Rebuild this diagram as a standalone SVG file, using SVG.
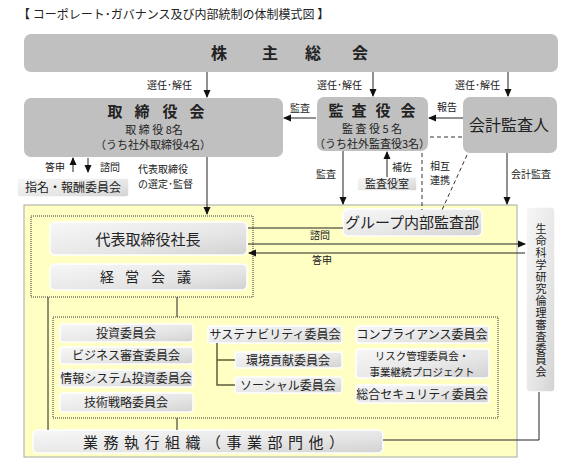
<svg xmlns="http://www.w3.org/2000/svg" width="574" height="464" viewBox="0 0 574 464">
<defs>
<linearGradient id="g" x1="0" y1="0" x2="1" y2="1">
<stop offset="0" stop-color="#f7f7f7"/>
<stop offset="0.6" stop-color="#e6e6e6"/>
<stop offset="1" stop-color="#d2d2d2"/>
</linearGradient>
<marker id="ah" markerWidth="8" markerHeight="8" refX="7" refY="4" orient="auto" markerUnits="userSpaceOnUse">
<path d="M0,0.5 L8,4 L0,7.5 z" fill="#111"/>
</marker>
<style>
text{font-family:"Noto Sans CJK JP","Noto Sans CJK SC",sans-serif;fill:#222}
.gray{fill:#c0c0c0;stroke:none}
.lt{fill:url(#g);stroke:#fff;stroke-width:1.5}
.ln{stroke:#222;stroke-width:1;fill:none}
.ar{stroke:#222;stroke-width:1;fill:none;marker-end:url(#ah)}
.dash{stroke:#333;stroke-width:1;stroke-dasharray:4,3;fill:none}
.dot{stroke:#333;stroke-width:1;stroke-dasharray:1,1;fill:none}
.s{font-size:10px}
.m{font-size:12px}
.n{font-size:11px}
.c{text-anchor:middle}
.br{stroke:#5e5e3a;stroke-width:1.5;fill:none}
</style>
</defs>

<text x="18" y="19" style="font-size:12px">【 コーポレート･ガバナンス及び内部統制の体制模式図 】</text>

<g id="yellow-area">
<rect x="24" y="205" width="493" height="252" fill="#ffffc4" stroke="#a8a8a8" stroke-width="1"/>
</g>

<g id="shareholders">
<rect class="gray" x="24" y="34" width="534" height="38" rx="7"/>
<text class="c" x="219 270 313 360" y="59" style="font-size:16px;font-weight:bold">株主総会</text>
</g>

<g id="board">
<rect class="gray" x="24" y="98" width="259" height="59" rx="7"/>
<text class="c" x="115 142 170 197" y="117" style="font-size:15px;font-weight:bold">取締役会</text>
<text class="c n" x="154" y="134">取 締 役 8名</text>
<text class="c n" x="153" y="149">（うち社外取締役4名）</text>
</g>

<g id="audit-board">
<rect class="gray" x="317" y="97" width="111" height="54" rx="7"/>
<text class="c" x="336 359 383 408" y="116" style="font-size:15px;font-weight:bold">監査役会</text>
<text class="c n" x="372" y="133">監 査 役 5 名</text>
<text class="c n" x="372" y="148">（うち社外監査役3名）</text>
</g>

<g id="accounting-auditor">
<rect class="gray" x="463" y="97" width="94" height="56" rx="7"/>
<text class="c" x="509" y="131" style="font-size:16px">会計監査人</text>
</g>

<g id="nomination-committee">
<rect class="lt" x="17" y="178" width="112" height="19" rx="3"/>
<text class="c m" x="73" y="192">指名・報酬委員会</text>
</g>

<g id="audit-office">
<rect class="lt" x="357" y="177" width="60" height="14" rx="2"/>
<text class="c n" x="387" y="188">監査役室</text>
</g>

<g id="dotted-top">
<rect class="dot" x="31" y="216" width="222" height="81"/>
</g>

<g id="president">
<rect class="lt" x="50" y="222" width="197" height="33" rx="5"/>
<text class="c" x="148" y="245" style="font-size:15px">代表取締役社長</text>
</g>

<g id="management-meeting">
<rect class="lt" x="50" y="264" width="197" height="26" rx="5"/>
<text class="c" x="107 132 158 184" y="282" style="font-size:14px">経営会議</text>
</g>

<g id="group-audit">
<rect class="lt" x="343" y="209" width="139" height="27" rx="5"/>
<text class="c" x="412" y="228" style="font-size:15px">グループ内部監査部</text>
</g>

<g id="ethics-committee">
<rect class="lt" x="526" y="207" width="29" height="185" rx="4"/>
<text class="c" style="font-size:11px" x="541 541 541 541 541 541 541 541 541 541 541 541 541" y="233 245 257 269 281 293 305 317 329 341 353 364 376">生命科学研究倫理審査委員会</text>
</g>

<g id="dotted-committees">
<rect class="dot" x="53" y="317" width="445" height="101"/>
</g>

<g id="committee-investment"><rect class="lt" x="60" y="324" width="133" height="18" rx="3"/><text class="c m" x="126" y="338">投資委員会</text></g>
<g id="committee-business"><rect class="lt" x="60" y="347" width="133" height="17" rx="3"/><text class="c m" x="126" y="360">ビジネス審査委員会</text></g>
<g id="committee-it"><rect class="lt" x="60" y="370" width="133" height="17" rx="3"/><text class="c m" x="126" y="383">情報システム投資委員会</text></g>
<g id="committee-tech"><rect class="lt" x="60" y="393" width="133" height="19" rx="3"/><text class="c m" x="126" y="407">技術戦略委員会</text></g>

<g id="committee-sustainability"><rect class="lt" x="208" y="326" width="134" height="17" rx="3"/><text class="c m" x="275" y="339">サステナビリティ委員会</text></g>
<g id="committee-environment"><rect class="lt" x="235" y="352" width="107" height="16" rx="3"/><text class="c m" x="288" y="365">環境貢献委員会</text></g>
<g id="committee-social"><rect class="lt" x="235" y="377" width="107" height="16" rx="3"/><text class="c m" x="288" y="390">ソーシャル委員会</text></g>

<g id="committee-compliance"><rect class="lt" x="356" y="326" width="133" height="17" rx="3"/><text class="c m" x="422" y="339">コンプライアンス委員会</text></g>
<g id="committee-risk"><rect class="lt" x="356" y="349" width="133" height="29" rx="3"/><text class="c" style="font-size:10.5px" x="422" y="360">リスク管理委員会・</text><text class="c" style="font-size:10.5px" x="422" y="375.5">事業継続プロジェクト</text></g>
<g id="committee-security"><rect class="lt" x="356" y="385" width="133" height="18" rx="3"/><text class="c m" x="422" y="399">総合セキュリティ委員会</text></g>

<g id="operations">
<rect class="lt" x="33" y="430" width="350" height="23" rx="5"/>
<text x="83" y="448" style="font-size:15px;letter-spacing:5.5px">業務執行組織（事業部門他）</text>
</g>

<g id="connectors">
<path class="ar" d="M207,72 V97"/>
<text class="s" x="147" y="89">選任･解任</text>
<path class="ar" d="M373,72 V96"/>
<text class="s" x="317" y="89">選任･解任</text>
<path class="ar" d="M508,72 V96"/>
<text class="s" x="455" y="89">選任･解任</text>

<path class="ar" d="M316,118 H284"/>
<text class="s" x="290" y="112">監査</text>
<path class="ar" d="M463,118 H429"/>
<text class="s" x="437" y="111">報告</text>

<path class="dash" d="M430,137 H462"/>
<path class="dash" d="M422,153 V210"/>
<path class="dash" d="M467,155 L442,210"/>
<text class="s" x="430" y="170">相互</text>
<text class="s" x="430" y="184">連携</text>

<path class="ar" d="M343,151 V204"/>
<text class="s" x="316" y="178">監査</text>
<path class="ar" d="M387,177 V152"/>
<text class="s" x="392" y="171">補佐</text>
<path class="ar" d="M507,153 V204"/>
<text class="s" x="511" y="178">会計監査</text>

<path class="ar" d="M73,172 V158"/>
<path class="ar" d="M88,158 V172"/>
<text class="s" x="45" y="171">答申</text>
<text class="s" x="100" y="171">諮問</text>
<text class="s" x="138" y="173">代表取締役</text>
<text class="s" x="138" y="188">の選定･監督</text>

<path class="ar" d="M207,157 V214"/>

<path class="ln" d="M248,228 H343"/>
<path class="ar" d="M248,244 H525"/>
<text class="s" x="310" y="239">諮問</text>
<path class="ar" d="M525,253 H249"/>
<text class="s" x="312" y="264">答申</text>

<path class="ln" d="M177,297 V317"/>
<path class="ln" d="M177,418 V430"/>
<path class="ln" d="M48,297 V430"/>

<path class="br" d="M217,343 V385 H235 M217,360 H235"/>

<path class="ln" d="M539,392 V440 H383"/>
</g>
</svg>
